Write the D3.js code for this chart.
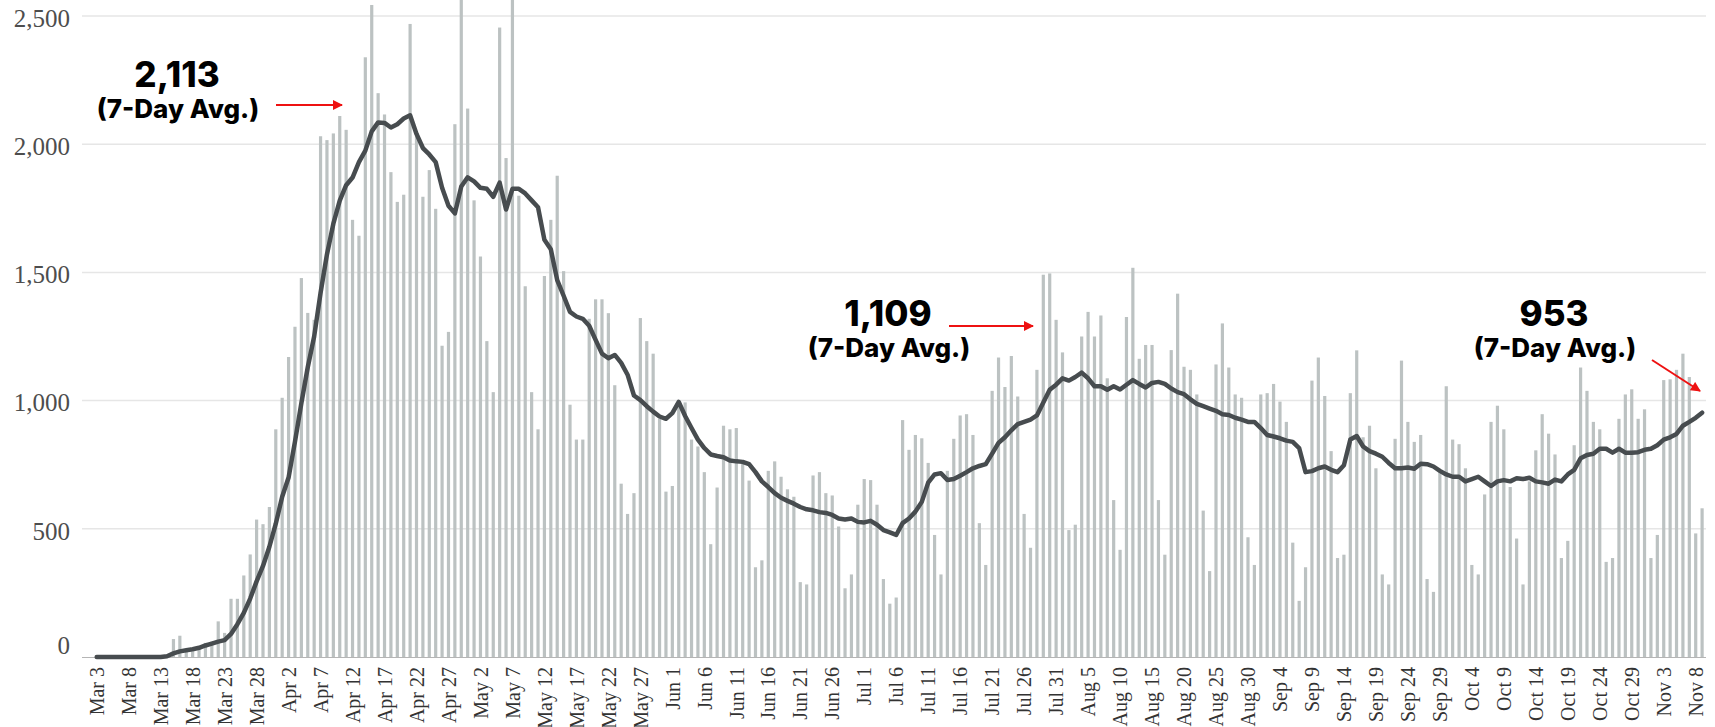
<!DOCTYPE html>
<html>
<head>
<meta charset="utf-8">
<script src="https://cdn.jsdelivr.net/npm/d3@7"></script>
<style>
  body { margin: 0; background: #fff; }
  svg { display: block; }
</style>
</head>
<body>
<div id="chart"></div>
<script>
// daily new cases, Mar 3 .. Nov 9 (one row per month)
var startDate = "2020-03-03";
var dailyCases = [
  0,0,0,0,0,0,0,0,0,2,3,5,70,83,22,22,35,55,61,139,94,227,227,318,400,536,518,585,888,
  1011,1170,1288,1478,1342,1315,2031,2016,2042,2110,2056,1705,1643,2339,2543,2199,2116,1891,1775,1803,2469,2043,1795,1899,1748,1214,1268,2078,2700,2139,
  1781,1562,1232,1033,2455,1946,2680,1799,1446,1033,888,1486,1705,1877,1505,984,848,848,1319,1395,1395,1341,1060,676,558,639,1322,1232,1183,929,645,
  667,993,993,848,821,721,440,661,902,888,893,757,688,350,377,726,763,703,654,625,292,283,708,721,639,630,509,268,322,594,
  694,690,594,304,208,232,924,808,866,853,757,476,322,726,851,942,947,866,522,359,1038,1168,1053,1174,1016,558,426,1120,1491,1496,1315,
  1188,495,516,1250,1346,1250,1332,1087,612,418,1326,1518,1163,1217,1217,612,399,1197,1417,1132,1120,1024,571,335,1141,1301,1129,1024,1011,467,359,
  1024,1029,1065,996,917,446,219,350,1078,1168,1018,803,386,399,1029,1196,857,902,736,322,283,851,1156,917,839,866,304,254,721,1056,
  848,830,736,359,322,634,917,980,888,663,462,283,685,806,947,871,790,386,453,826,1129,1038,917,888,371,386,929,1024,1044,929,966,
  386,476,1080,1083,1120,1183,1092,482,580
];
var avg7 = [
  0,0,0,0,0,0,0,0,0,0,0,3,14,22,26,30,36,45,52,60,66,90,128,172,228,295,355,430,520,
  625,700,840,990,1130,1250,1420,1570,1690,1780,1840,1870,1930,1975,2050,2085,2083,2065,2078,2100,2113,2040,1985,1960,1930,1830,1760,1730,1835,1871,
  1855,1830,1826,1795,1850,1745,1826,1826,1808,1781,1754,1627,1590,1470,1409,1346,1328,1319,1292,1237,1183,1165,1178,1147,1101,1020,1002,978,957,938,929,
  951,995,940,893,848,815,790,784,779,766,763,761,752,721,685,663,639,621,609,598,585,576,572,565,562,554,540,536,540,527,
  525,531,516,495,486,476,522,540,567,605,680,712,717,690,694,707,721,736,745,752,793,835,857,884,908,917,926,942,993,1042,1062,
  1087,1078,1092,1109,1087,1056,1056,1042,1056,1043,1062,1080,1065,1051,1069,1073,1065,1047,1033,1025,1005,987,978,969,960,947,944,933,926,917,917,
  893,866,860,853,844,839,815,721,725,736,743,730,721,748,848,862,821,803,793,781,757,736,736,739,734,754,752,743,726,712,
  703,703,685,694,703,685,667,685,690,685,697,694,699,685,681,676,692,685,712,730,775,788,793,812,812,797,812,797,797,799,808,
  812,826,848,857,870,902,917,933,953
];
var tickLabels = [
  "Mar 3","Mar 8","Mar 13","Mar 18","Mar 23","Mar 28","Apr 2","Apr 7","Apr 12","Apr 17","Apr 22","Apr 27",
  "May 2","May 7","May 12","May 17","May 22","May 27","Jun 1","Jun 6","Jun 11","Jun 16","Jun 21","Jun 26",
  "Jul 1","Jul 6","Jul 11","Jul 16","Jul 21","Jul 26","Jul 31","Aug 5","Aug 10","Aug 15","Aug 20","Aug 25","Aug 30",
  "Sep 4","Sep 9","Sep 14","Sep 19","Sep 24","Sep 29","Oct 4","Oct 9","Oct 14","Oct 19","Oct 24","Oct 29","Nov 3","Nov 8"
];
var yTicks = [0, 500, 1000, 1500, 2000, 2500];
var callouts = [
  {value: "2,113", date: "Apr 21"},
  {value: "1,109", date: "Aug 4"},
  {value: "953", date: "Nov 9"}
];

var width = 1715, height = 727;
var fmt = d3.timeFormat("%b %-d");
var t0 = d3.timeParse("%Y-%m-%d")(startDate);
var days = dailyCases.map(function (d, i) { return fmt(d3.timeDay.offset(t0, i)); });

var svg = d3.select("#chart").append("svg").attr("width", width).attr("height", height);

var x = d3.scaleBand().domain(days).range([93.5, 1705.3]).paddingInner(0.5).paddingOuter(0.25);
var y = d3.scaleLinear().domain([0, 2500]).range([657, 16]);
var cx = function (d) { return x(d) + x.bandwidth() / 2; };

// gridlines
svg.append("g").selectAll("line").data(yTicks.slice(1)).enter().append("line")
  .attr("x1", 82).attr("x2", 1706)
  .attr("y1", function (d) { return y(d); }).attr("y2", function (d) { return y(d); })
  .attr("stroke", "#e6e6e6").attr("stroke-width", 1.5);

// y labels
svg.append("g").selectAll("text").data(yTicks).enter().append("text")
  .attr("x", 70)
  .attr("y", function (d) { return d === 0 ? y(d) - 12 : y(d) + 2; })
  .attr("dy", "0.35em")
  .attr("text-anchor", "end")
  .attr("font-family", "Liberation Serif, serif")
  .attr("font-size", 25)
  .attr("fill", "#4d4d4d")
  .text(function (d) { return d3.format(",")(d); });

// bars
svg.append("g").selectAll("rect").data(dailyCases).enter().append("rect")
  .attr("x", function (d, i) { return x(days[i]); })
  .attr("width", x.bandwidth())
  .attr("y", function (d) { return y(d); })
  .attr("height", function (d) { return y(0) - y(d); })
  .attr("fill", "#bcc2c2");

// baseline
svg.append("line").attr("x1", 82).attr("x2", 1706).attr("y1", y(0) + 0.5).attr("y2", y(0) + 0.5)
  .attr("stroke", "#b5b5b5").attr("stroke-width", 1);

// 7-day average line
var line = d3.line()
  .x(function (d, i) { return cx(days[i]); })
  .y(function (d) { return y(d); });
svg.append("path").datum(avg7)
  .attr("d", line)
  .attr("fill", "none")
  .attr("stroke", "#474c4f")
  .attr("stroke-width", 4.5)
  .attr("stroke-linejoin", "round")
  .attr("stroke-linecap", "round");

// x axis labels
var xAxis = d3.axisBottom(x).tickValues(tickLabels).tickSize(0).tickPadding(0);
var gx = svg.append("g").attr("transform", "translate(0," + 667 + ")").call(xAxis);
gx.select(".domain").remove();
gx.selectAll("text")
  .attr("transform", "rotate(-90)")
  .attr("x", 0).attr("y", 0).attr("dy", "0.36em")
  .attr("text-anchor", "end")
  .attr("font-family", "Liberation Serif, serif")
  .attr("font-size", 20)
  .attr("fill", "#333");

// callouts
var defs = svg.append("defs");
defs.append("marker").attr("id", "head").attr("viewBox", "0 0 10 10")
  .attr("refX", 9).attr("refY", 5).attr("markerWidth", 5.5).attr("markerHeight", 5)
  .attr("orient", "auto").attr("markerUnits", "strokeWidth")
  .append("path").attr("d", "M0,0L10,5L0,10z").attr("fill", "#ee1111");

var labelPos = [[177, 87, 276, 105, 342, 105], [888, 326, 949, 326, 1033, 326], [1554, 326, 1652, 360, 1700, 391]];
callouts.forEach(function (c, i) {
  var p = labelPos[i];
  svg.append("text").attr("x", p[0]).attr("y", p[1]).attr("text-anchor", "middle")
    .attr("font-family", "Inter, sans-serif").attr("font-weight", 800).attr("font-size", 35)
    .attr("fill", "#000").text(c.value);
  svg.append("text").attr("x", p[0] + 1).attr("y", p[1] + 31).attr("text-anchor", "middle")
    .attr("font-family", "Inter, sans-serif").attr("font-weight", 800).attr("font-size", 26)
    .attr("fill", "#000").text("(7-Day Avg.)");
  svg.append("line").attr("x1", p[2]).attr("y1", p[3]).attr("x2", p[4]).attr("y2", p[5])
    .attr("stroke", "#ee1111").attr("stroke-width", 2).attr("marker-end", "url(#head)");
});
</script>
</body>
</html>
